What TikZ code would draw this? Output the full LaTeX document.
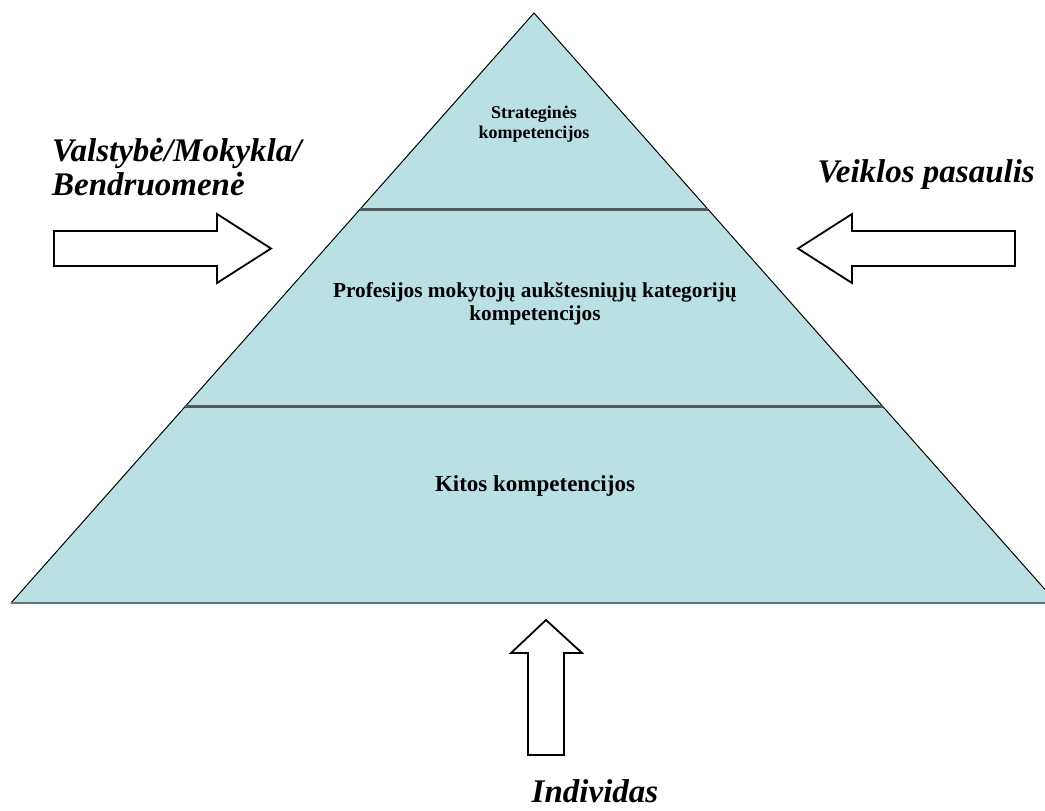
\documentclass[tikz,border=0pt]{standalone}
\usepackage{fontspec}
\setmainfont{Liberation Serif}
\usepackage{xcolor}
\definecolor{LAYERCOLOR}{HTML}{BBE0E3}
\definecolor{RULECOLOR}{HTML}{4F5B5B}
\definecolor{BASECOLOR}{HTML}{647575}
\usepackage{tikz}
\usetikzlibrary{calc}
\tikzset{
  layer-style/.style = {
    fill=LAYERCOLOR
  },
  side-style/.style = {
    draw=black, line width=1pt
  },
  rule-style/.style = {
    draw=RULECOLOR, line width=2.5pt
  },
  base-style/.style = {
    draw=BASECOLOR, line width=2pt
  },
  block-style/.style = {
    draw=black, fill=white, line width=1.8pt, line join=miter
  },
  small-text/.style = {
    font=\bfseries\fontsize{18}{20}\selectfont, align=center, inner sep=0pt
  },
  level-text/.style = {
    font=\bfseries\fontsize{#1}{23}\selectfont, align=center, inner sep=0pt
  },
  level-text/.default = 21.3,
  side-text/.style = {
    font=\bfseries\itshape\fontsize{33}{34}\selectfont, align=left, inner sep=0pt
  }
}

\begin{document}
\begin{tikzpicture}[x=1pt, y=-1pt]
  \useasboundingbox (0,0) rectangle (1045,811);
  \clip (0,0) rectangle (1045,811);

  % pyramid
  \coordinate (apex) at (534,13);
  \coordinate (left) at (11,603);
  \coordinate (right) at (1057,603);
  \coordinate (top-l) at ($(apex)!1/3!(left)$);
  \coordinate (top-r) at ($(apex)!1/3!(right)$);
  \coordinate (mid-l) at ($(apex)!2/3!(left)$);
  \coordinate (mid-r) at ($(apex)!2/3!(right)$);

  \path[layer-style] (apex) -- (left) -- (right) -- cycle;
  \draw[side-style] (left) -- (apex) -- (right);
  \draw[base-style] (left) -- (right);
  \draw[rule-style] (top-l) -- (top-r);
  \draw[rule-style] (mid-l) -- (mid-r);

  % base anchor sits on the last line
  \node[small-text, anchor=base] (strategic) at (534,138) {Strateginės\\kompetencijos};
  \node[level-text, anchor=base] (teacher) at (535,320) {Profesijos mokytojų aukštesniųjų kategorijų\\kompetencijos};
  \node[level-text=23, anchor=base] (other) at (535,491) {Kitos kompetencijos};

  % outside forces
  \node[side-text, anchor=base west] (state) at (52,195) {Valstybė/Mokykla/\\Bendruomenė};
  \node[side-text, anchor=base east] (world) at (1035,182) {Veiklos pasaulis};
  \node[side-text, anchor=base] (person) at (595,802) {Individas};

  \draw[block-style] (54,231) -- (217,231) -- (217,214) -- (271,248.5)
    -- (217,283) -- (217,266) -- (54,266) -- cycle;
  \draw[block-style] (1015,231) -- (852,231) -- (852,214) -- (798,248.5)
    -- (852,283) -- (852,266) -- (1015,266) -- cycle;
  \draw[block-style] (528,755) -- (528,653) -- (511,653) -- (546,620)
    -- (582,653) -- (564,653) -- (564,755) -- cycle;
\end{tikzpicture}
\end{document}
